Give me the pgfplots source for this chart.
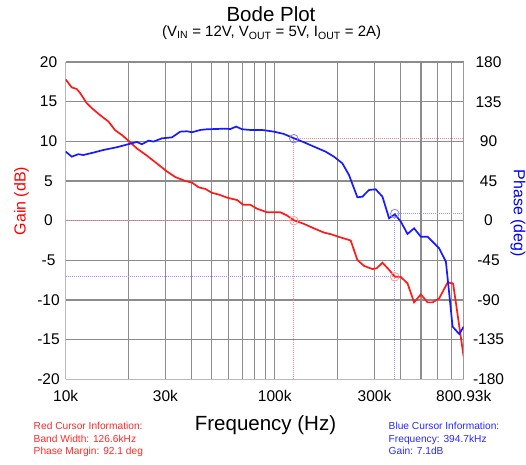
\documentclass[border=0pt]{standalone}
\usepackage{fontspec}
\setmainfont{Liberation Sans}
\usepackage{pgfplots}
\pgfplotsset{compat=1.18}

\definecolor{gridgray}{RGB}{140,140,140}
\definecolor{curvered}{RGB}{255,25,25}
\definecolor{curveblue}{RGB}{25,25,255}
\definecolor{txtred}{RGB}{255,40,40}
\definecolor{txtblue}{RGB}{40,40,255}

\begin{document}
\begin{tikzpicture}
\begin{axis}[
  width=398pt, height=317.3pt, scale only axis,
  xmode=log, xmin=10000, xmax=800930,
  tick label style={font=\fontsize{15.5}{18}\selectfont},
  major tick length=0pt, minor tick length=0pt,
  ymin=-20, ymax=20, ytick={-20,-15,...,20},
  xtick={10000,20000,30000,40000,50000,60000,70000,80000,90000,100000,200000,300000,400000,500000,600000,700000,800930},
  xticklabels={10k,{},30k,{},{},{},{},{},{},100k,{},300k,{},{},{},{},800.93k},
  xticklabel style={yshift=-7pt},
  yticklabel style={anchor=center, xshift=-17.2pt},
  grid=major, major grid style={gridgray, line width=1.2pt},
  axis line style={gray!55, line width=1pt},
  axis y line*=left, axis x line*=bottom,
  yticklabel={\pgfmathprintnumber[assume math mode=true]{\tick}},
]
% red cursor lines
\addplot[red!45, densely dotted, line width=1pt] coordinates {(10000,0) (123350,0)};
\addplot[red!45, densely dotted, line width=1pt] coordinates {(123350,-20) (123350,10.35)};
% blue cursor lines
\addplot[blue!40, densely dotted, line width=1pt] coordinates {(10000,-7.08) (374900,-7.08)};
\addplot[blue!40, densely dotted, line width=1pt] coordinates {(374900,-20) (374900,0.9)};
% gain curve
\addplot[curvered, line width=1.7pt] coordinates {
(10000,17.8) (10686,16.8) (11288,16.6) (11712,16.1) (12611,14.8) (13324,14.2)
(14601,13.3) (16004,12.5) (17234,11.4) (18556,10.8) (20115,10.0) (21895,9.1)
(24456,8.2) (27311,7.2) (30504,6.2) (33420,5.5) (37326,5.0) (40181,4.8)
(43219,4.2) (46547,4.0) (50119,3.5) (53878,3.3) (59134,2.9) (66039,2.6)
(70555,2.0) (76454,2.0) (82340,1.5) (91954,1.05) (106490,1.05) (114690,0.63)
(123350,0.05) (137720,-0.4) (153810,-0.97) (171790,-1.5) (184930,-1.7)
(202690,-2.05) (230720,-2.5) (248310,-4.96) (267120,-5.7) (293030,-6.1)
(307280,-6.0) (327310,-5.3) (352080,-6.2) (374900,-7.06) (400600,-7.1)
(431240,-7.9) (463740,-10.3) (499400,-9.3) (537800,-10.3) (568300,-10.3)
(611300,-9.8) (670700,-7.8) (708700,-7.9) (713500,-8.0) (800930,-17.2)
};
% cursor circles on gain
\addplot[red!40, only marks, mark=o, mark size=4.3pt, mark options={line width=0.8pt}] coordinates {(123350,0) (374900,-7.08)};
\end{axis}

\begin{axis}[
  width=398pt, height=317.3pt, scale only axis,
  xmode=log, xmin=10000, xmax=800930,
  tick label style={font=\fontsize{15.5}{18}\selectfont},
  major tick length=0pt, minor tick length=0pt,
  ymin=-180, ymax=180, ytick={-180,-135,...,180},
  axis y line*=right, axis x line=none,
  yticklabel style={anchor=center, xshift=24.8pt},
  axis line style={gray!80, line width=1.2pt},
  yticklabel={\pgfmathprintnumber[assume math mode=true]{\tick}},
]
\addplot[red!45, densely dotted, line width=1pt] coordinates {(123350,93) (800930,93)};
\addplot[blue!40, densely dotted, line width=1pt] coordinates {(374900,8) (800930,8)};
\addplot[curveblue, line width=1.7pt] coordinates {
(10000,78.3) (10686,72.6) (11493,75.4) (12148,74.5) (13566,77.2) (15145,80.2)
(17563,83.3) (20115,87) (21895,89.3) (23140,86.7) (24890,90.8) (26300,89.7)
(28860,93.4) (32230,94.5) (35310,101) (38030,101.4) (40181,100.3) (44050,102.9)
(47430,103.7) (52960,104) (56940,104.4) (61330,104) (65310,106.7) (69780,103.7)
(76454,102.9) (87000,102.9) (98900,101) (110440,98.4) (123350,93.5) (137720,89)
(153810,84) (175040,78.3) (191820,72.6) (210430,65.1) (226290,51.9) (248310,26.5)
(262420,27.2) (282220,34.8) (303810,35.6) (327310,27.2) (352080,2.7) (374900,7.2)
(400600,-1.1) (431240,-15.1) (463740,-8.7) (499400,-18.2) (537800,-18.2)
(611300,-31.4) (658200,-46.5) (682600,-82.4) (708700,-120.3) (762400,-128.6)
(800930,-120.3)
};
\addplot[blue!50, only marks, mark=o, mark size=4.3pt, mark options={line width=0.8pt}] coordinates {(123350,93) (374900,8)};
\end{axis}

\node[anchor=base, font=\fontsize{20.5}{24}\selectfont] at (205.3pt,357.3pt) {Bode Plot};
\node[anchor=base, font=\fontsize{15}{18}\selectfont] at (206pt,342.6pt) {(V\textsubscript{IN} = 12V, V\textsubscript{OUT} = 5V, I\textsubscript{OUT} = 2A)};
\node[rotate=90, text=red, font=\fontsize{16}{19}\selectfont] at (-44.2pt,178.3pt) {Gain (dB)};
\node[rotate=-90, text=blue, font=\fontsize{16}{19}\selectfont] at (452.3pt,166pt) {Phase (deg)};
\node[anchor=base, font=\fontsize{20.5}{24}\selectfont] at (199.8pt,-50.7pt) {Frequency (Hz)};
\node[anchor=base west, text=txtred, font=\fontsize{10.2}{12}\selectfont] at (-35.5pt,-49.7pt) {Red Cursor Information:};
\node[anchor=base west, text=txtred, font=\fontsize{10.2}{12}\selectfont] at (-35.5pt,-62.7pt) {Band Width: 126.6kHz};
\node[anchor=base west, text=txtred, font=\fontsize{10.2}{12}\selectfont] at (-35.5pt,-75pt) {Phase Margin: 92.1 deg};
\node[anchor=base west, text=txtblue, font=\fontsize{10.2}{12}\selectfont] at (319.5pt,-49.7pt) {Blue Cursor Information:};
\node[anchor=base west, text=txtblue, font=\fontsize{10.2}{12}\selectfont] at (319.5pt,-62.7pt) {Frequency: 394.7kHz};
\node[anchor=base west, text=txtblue, font=\fontsize{10.2}{12}\selectfont] at (319.5pt,-75pt) {Gain: 7.1dB};
\pgfresetboundingbox
\path[use as bounding box] (-65.7pt,-84.7pt) rectangle (460.3pt,379.3pt);
\end{tikzpicture}
\end{document}
